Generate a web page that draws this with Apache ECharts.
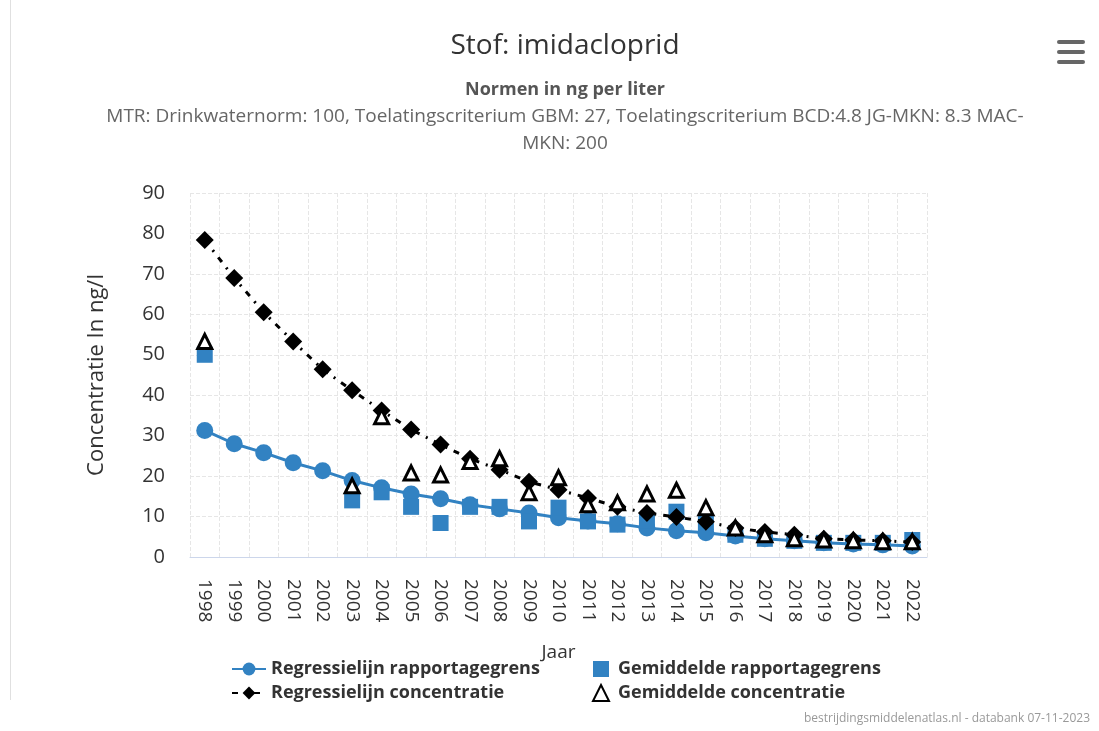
<!DOCTYPE html>
<html>
<head>
<meta charset="utf-8">
<script src="https://cdn.jsdelivr.net/npm/echarts@6/dist/echarts.min.js"></script>
<style>
  html, body { margin: 0; padding: 0; background: #fff; }
  #chart { width: 1099px; height: 731px; }
</style>
</head>
<body>
<div id="chart"></div>
<script>
// jaren (categorie-as)
const years = ["1998", "1999", "2000", "2001", "2002", "2003", "2004", "2005", "2006", "2007", "2008", "2009",
  "2010", "2011", "2012", "2013", "2014", "2015", "2016", "2017", "2018", "2019", "2020", "2021", "2022"];

// regressielijn rapportagegrens
const regRapportage = [31.3, 28, 25.8, 23.3, 21.3, 18.9, 17.1, 15.6, 14.4, 12.9, 11.9, 10.9,
  9.7, 8.9, 8.2, 7.2, 6.5, 6.0, 5.2, 4.5, 4.0, 3.5, 3.2, 3.0, 2.7];

// gemiddelde rapportagegrens (ontbrekende jaren = null)
const gemRapportage = [50, null, null, null, null, 14, 16, 12.4, 8.4, 12.4, 12.4, 8.8,
  12.2, 8.8, 8.0, 9.0, 11.2, 8.5, 5.5, 4.5, 4.0, 3.5, 3.5, 3.5, 4.2];

// regressielijn concentratie
const regConcentratie = [78.4, 69, 60.5, 53.3, 46.4, 41.2, 36.2, 31.5, 27.8, 24.3, 21.6, 18.6,
  16.6, 14.6, 12.4, 10.9, 9.9, 8.7, 7.2, 6.2, 5.5, 4.5, 4.2, 4.0, 3.7];

// gemiddelde concentratie
const gemConcentratie = [53.3, null, null, null, null, 17.6, 34.7, 20.8, 20.3, 23.6, 24.3, 15.9,
  19.6, 12.9, 13.4, 15.6, 16.5, 12.2, 7.2, 5.5, 4.5, 4.2, 4.0, 3.8, 3.8];

const FONT = "'Open Sans', 'Noto Sans', sans-serif";
const BLUE = "#3282c2";

const chart = echarts.init(document.getElementById("chart"));

const option = {
  animation: false,
  textStyle: { fontFamily: FONT },
  title: [
    {
      text: "Stof: imidacloprid",
      left: 560,
      top: 27,
      textAlign: "center",
      textStyle: { fontSize: 28, fontWeight: "normal", color: "#333", fontFamily: FONT }
    },
    {
      text: "Normen in ng per liter",
      subtext: "MTR: Drinkwaternorm: 100, Toelatingscriterium GBM: 27, Toelatingscriterium BCD:4.8 JG-MKN: 8.3 MAC-\nMKN: 200",
      left: 560,
      top: 76,
      textAlign: "center",
      itemGap: 4,
      textStyle: { fontSize: 18, fontWeight: "bold", color: "#555", fontFamily: FONT },
      subtextStyle: { fontSize: 19, color: "#666", lineHeight: 27, fontFamily: FONT }
    }
  ],
  legend: [
    {
      orient: "vertical",
      left: 226,
      top: 655,
      itemGap: 6,
      itemWidth: 34,
      itemHeight: 16,
      textStyle: { fontSize: 18, fontWeight: "bold", color: "#333" },
      data: ["Regressielijn rapportagegrens", "Regressielijn concentratie"]
    },
    {
      orient: "vertical",
      left: 587,
      top: 655,
      itemGap: 6,
      itemWidth: 16,
      itemHeight: 16,
      textStyle: { fontSize: 18, fontWeight: "bold", color: "#333", padding: [0, 0, 0, 4] },
      data: ["Gemiddelde rapportagegrens", "Gemiddelde concentratie"]
    }
  ],
  grid: {
    left: 190,
    right: 172,
    top: 193,
    bottom: 174
  },
  xAxis: {
    type: "category",
    data: years,
    boundaryGap: true,
    name: "Jaar",
    nameLocation: "middle",
    nameGap: 86,
    nameTextStyle: { fontSize: 19, color: "#333" },
    axisLine: { lineStyle: { color: "#ccd6eb", width: 1 } },
    axisTick: { show: false },
    axisLabel: { rotate: -90, margin: 22, fontSize: 19, color: "#333", interval: 0 },
    splitLine: { show: true, lineStyle: { color: "#e6e6e6", type: "dashed" } }
  },
  yAxis: {
    type: "value",
    min: 0,
    max: 90,
    interval: 10,
    name: "Concentratie In ng/l",
    nameLocation: "middle",
    nameGap: 82,
    nameTextStyle: { fontSize: 22, color: "#333" },
    axisLine: { show: false },
    axisTick: { show: false },
    axisLabel: { fontSize: 20, color: "#333", margin: 25 },
    splitLine: { lineStyle: { color: "#e6e6e6", type: "dashed" } }
  },
  series: [
    {
      name: "Regressielijn rapportagegrens",
      type: "line",
      data: regRapportage,
      symbol: "circle",
      symbolSize: 17,
      lineStyle: { color: BLUE, width: 3 },
      itemStyle: { color: BLUE },
      z: 2
    },
    {
      name: "Gemiddelde rapportagegrens",
      type: "scatter",
      data: gemRapportage,
      symbol: "rect",
      symbolSize: 16,
      itemStyle: { color: BLUE, opacity: 1 },
      z: 3
    },
    {
      name: "Regressielijn concentratie",
      type: "line",
      data: regConcentratie,
      symbol: "diamond",
      symbolSize: 18,
      lineStyle: { color: "#000", width: 3, type: [6, 7, 2, 7] },
      itemStyle: { color: "#000" },
      z: 4
    },
    {
      name: "Gemiddelde concentratie",
      type: "scatter",
      data: gemConcentratie,
      symbol: "triangle",
      symbolSize: 14,
      itemStyle: { color: "#fff", borderColor: "#000", borderWidth: 3, opacity: 1 },
      z: 5
    }
  ],
  graphic: [
    // linker kaderlijn
    { type: "line", shape: { x1: 10.5, y1: 0, x2: 10.5, y2: 700 }, style: { stroke: "#e0e0e0", lineWidth: 1 } },
    // menu-icoon
    { type: "rect", shape: { x: 1057, y: 40, width: 28, height: 4, r: 2 }, style: { fill: "#666" } },
    { type: "rect", shape: { x: 1057, y: 50, width: 28, height: 4, r: 2 }, style: { fill: "#666" } },
    { type: "rect", shape: { x: 1057, y: 60, width: 28, height: 4, r: 2 }, style: { fill: "#666" } },
    // bron
    {
      type: "text",
      right: 9,
      top: 713,
      style: { text: "bestrijdingsmiddelenatlas.nl - databank 07-11-2023", fontSize: 12, fill: "#999", fontFamily: FONT }
    }
  ]
};

chart.setOption(option);
</script>
</body>
</html>
